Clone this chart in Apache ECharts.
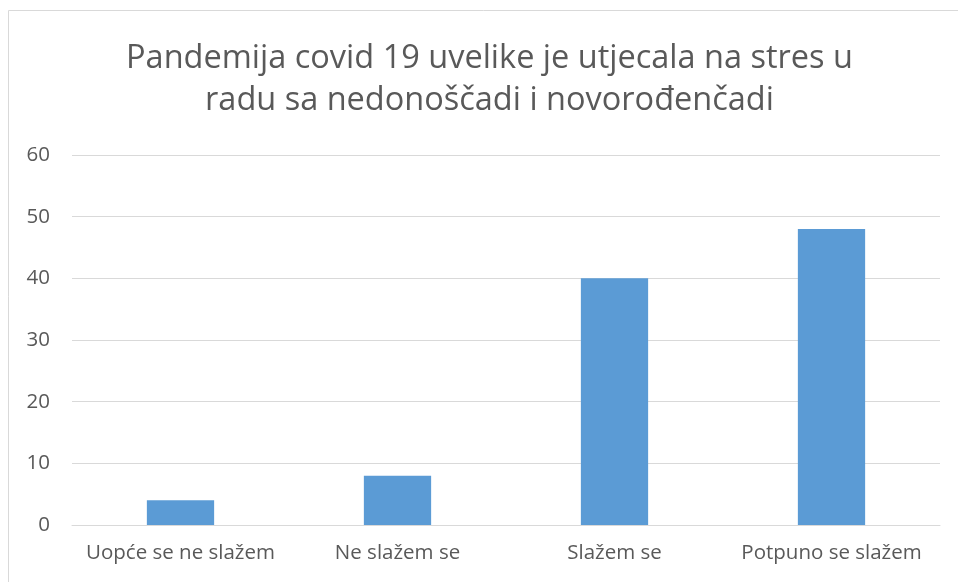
<!DOCTYPE html>
<html><head><meta charset="utf-8">
<script src="https://cdn.jsdelivr.net/npm/echarts@6/dist/echarts.min.js"></script>
<style>html,body{margin:0;padding:0;background:#fff}#c{width:958px;height:582px}</style>
</head><body><div id="c"></div>
<script>
const titleLines = ['Pandemija covid 19 uvelike je utjecala na stres u', 'radu sa nedonoščadi i novorođenčadi'];
const categories = ['Uopće se ne slažem', 'Ne slažem se', 'Slažem se', 'Potpuno se slažem'];
const values = [4, 8, 40, 48];
const yTicks = {min: 0, max: 60, interval: 10};

const chart = echarts.init(document.getElementById('c'), null, {renderer: 'canvas'});
const font = '"Open Sans", sans-serif';
chart.setOption({
  animation: false,
  graphic: [{
    type: 'rect', silent: true,
    shape: {x: 8.5, y: 10.5, width: 1000, height: 1000},
    style: {fill: 'none', stroke: '#d9d9d9', lineWidth: 1}
  }],
  title: {
    text: titleLines.join('\n'),
    left: 489.5,
    top: 37,
    padding: 0,
    textAlign: 'center',
    textStyle: {fontFamily: font, fontSize: 32.5, fontWeight: 'normal', color: '#595959', lineHeight: 42.5}
  },
  grid: {left: 72, right: 18, top: 155, bottom: 57, containLabel: false},
  xAxis: {
    type: 'category',
    data: categories,
    axisLine: {show: true, lineStyle: {color: '#d9d9d9', width: 1}},
    axisTick: {show: false},
    axisLabel: {interval: 0, fontFamily: font, fontSize: 20.5, color: '#595959', margin: 18}
  },
  yAxis: {
    type: 'value',
    min: yTicks.min, max: yTicks.max, interval: yTicks.interval,
    axisLine: {show: false},
    axisTick: {show: false},
    splitLine: {lineStyle: {color: '#d9d9d9', width: 1}},
    axisLabel: {fontFamily: font, fontSize: 20.5, color: '#595959', margin: 22}
  },
  series: [{
    type: 'bar',
    data: values,
    barWidth: '31%',
    itemStyle: {color: '#5b9bd5'}
  }]
});
</script></body></html>
